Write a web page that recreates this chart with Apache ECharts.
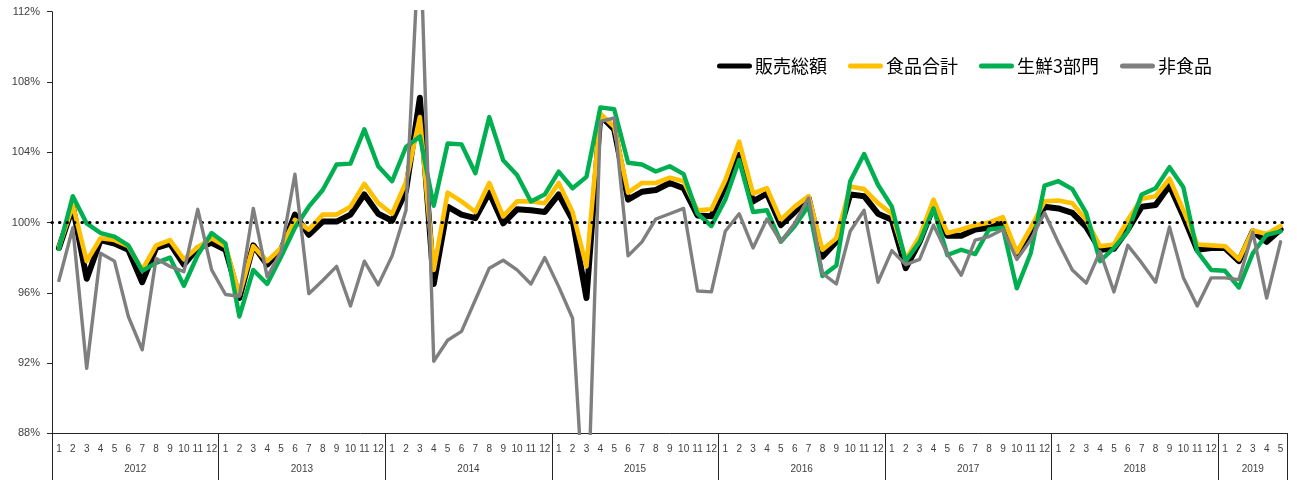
<!DOCTYPE html>
<html>
<head>
<meta charset="utf-8">
<title>販売額 前年同月比</title>
<script src="https://cdn.jsdelivr.net/npm/echarts@6/dist/echarts.min.js"></script>
<style>
  html, body { margin: 0; padding: 0; background: #ffffff; }
  #chart { width: 1297px; height: 480px; }
</style>
</head>
<body>
<div id="chart"></div>
<script>
// Years shown on the lower axis row and how many months each one covers
const years = ['2012', '2013', '2014', '2015', '2016', '2017', '2018', '2019'];
const monthsInYear = [12, 12, 12, 12, 12, 12, 12, 5];

// Year-over-year ratio (%) by month, Jan 2012 – May 2019
const salesTotal = [ // 販売総額
  98.55, 100.9, 96.8, 99.0, 98.8, 98.45, 96.6, 98.55, 98.8, 97.6, 98.55, 98.85,
  98.45, 95.7, 98.7, 97.6, 98.45, 100.45, 99.3, 100.05, 100.05, 100.45, 101.6, 100.5,
  100.1, 101.8, 107.1, 96.5, 100.9, 100.45, 100.25, 101.7, 99.95, 100.75, 100.7, 100.6,
  101.6, 100.15, 95.7, 106.1, 105.3, 101.3, 101.75, 101.85, 102.25, 101.95, 100.4, 100.35,
  102.05, 103.85, 101.2, 101.65, 99.85, 100.6, 101.4, 98.05, 98.9, 101.6, 101.5, 100.5,
  100.15, 97.4, 98.9, 100.9, 99.25, 99.25, 99.6, 99.7, 99.95, 98.15, 99.5, 100.9,
  100.8, 100.55, 99.75, 98.45, 98.5, 99.6, 100.9, 101.0, 102.1, 100.35, 98.45, 98.55,
  98.55, 97.8, 99.5, 98.9, 99.6
];
const foodTotal = [ // 食品合計
  98.6, 101.0, 97.8, 99.1, 99.0, 98.65, 97.3, 98.7, 99.0, 97.9, 98.6, 99.1,
  98.65, 95.9, 98.65, 97.8, 98.55, 100.15, 99.6, 100.45, 100.45, 100.9, 102.2, 101.1,
  100.5, 102.3, 106.0, 97.3, 101.7, 101.2, 100.6, 102.25, 100.35, 101.2, 101.2, 101.1,
  102.25, 100.6, 97.5, 106.2, 105.45, 101.7, 102.25, 102.25, 102.55, 102.35, 100.7, 100.75,
  102.4, 104.6, 101.65, 101.95, 100.15, 100.9, 101.5, 98.45, 99.1, 102.05, 101.9, 101.1,
  100.5, 97.9, 99.2, 101.3, 99.4, 99.6, 99.85, 100.0, 100.3, 98.3, 99.7, 101.2,
  101.25, 101.1, 100.15, 98.65, 98.75, 100.15, 101.35, 101.5, 102.5, 100.7, 98.75, 98.7,
  98.65, 97.9, 99.55, 99.35, 99.8
];
const freshThree = [ // 生鮮3部門
  98.5, 101.5, 99.95, 99.4, 99.2, 98.7, 97.25, 97.7, 98.0, 96.4, 98.15, 99.4,
  98.8, 94.65, 97.3, 96.5, 98.05, 99.7, 100.9, 101.85, 103.3, 103.35, 105.3, 103.2,
  102.35, 104.3, 104.9, 100.95, 104.5, 104.45, 102.8, 106.0, 103.55, 102.7, 101.2, 101.6,
  102.9, 101.95, 102.6, 106.55, 106.45, 103.4, 103.3, 102.9, 103.2, 102.75, 100.5, 99.8,
  101.3, 103.55, 100.6, 100.7, 98.9, 99.8, 100.95, 96.95, 97.55, 102.35, 103.9, 102.15,
  100.9, 97.8, 98.9, 100.8, 98.15, 98.45, 98.2, 99.6, 99.7, 96.25, 98.25, 102.1,
  102.35, 101.9, 100.55, 97.8, 98.55, 99.5, 101.6, 101.95, 103.15, 102.0, 98.35, 97.3,
  97.25, 96.3, 98.25, 99.3, 99.5
];
const nonFood = [ // 非食品
  96.7, 99.7, 91.7, 98.25, 97.8, 94.65, 92.75, 97.95, 97.5, 97.2, 100.75, 97.3,
  95.9, 95.8, 100.8, 96.9, 98.35, 102.75, 95.95, 96.7, 97.5, 95.25, 97.8, 96.45,
  98.1, 100.7, 117.0, 92.1, 93.3, 93.8, 95.6, 97.4, 97.85, 97.3, 96.5, 98.0,
  96.35, 94.55, 81.3, 105.75, 105.95, 98.1, 98.9, 100.2, 100.5, 100.8, 96.1, 96.05,
  99.5, 100.5, 98.55, 100.2, 98.9, 99.95, 101.4, 97.1, 96.5, 99.5, 100.7, 96.6,
  98.4, 97.6, 97.9, 99.85, 98.2, 97.0, 99.0, 99.2, 99.6, 97.9, 99.0, 100.55,
  98.85, 97.3, 96.55, 98.35, 96.05, 98.7, 97.7, 96.6, 99.75, 96.85, 95.25, 96.85,
  96.85, 96.75, 99.45, 95.7, 98.9
];

// Value axis range and tick step (%)
const yMin = 88, yMax = 112, yStep = 4;
const baseLine = 100;

// Month labels and year bookkeeping for the two-row category axis
const monthLabels = [];
const yearStart = {};   // first category index of each year
const yearLabelAt = {}; // category index -> { text, shifted }
let idx = 0;
years.forEach(function (y, k) {
  const n = monthsInYear[k];
  yearStart[idx] = true;
  if (n % 2 === 0) {
    yearLabelAt[idx + n / 2 - 1] = { text: y, shifted: true };
  } else {
    yearLabelAt[idx + (n - 1) / 2] = { text: y, shifted: false };
  }
  for (let m = 1; m <= n; m++) monthLabels.push(String(m));
  idx += n;
});

const axisColor = '#262626';
const labelColor = '#404040';
const latin = "'Liberation Sans', Arial, sans-serif";
const cjk = "'Noto Sans CJK JP', 'Noto Sans', sans-serif";
// Capsule-shaped legend swatch
const capsule = 'path://M2.5,0 L32.5,0 A2.5,2.5 0 0 1 32.5,5 L2.5,5 A2.5,2.5 0 0 1 2.5,0 Z';

function lineSeries(name, data, color, width, z) {
  return {
    name: name,
    type: 'line',
    data: data,
    symbol: 'none',
    clip: true,
    z: z,
    lineStyle: { color: color, width: width, join: 'round', cap: 'round' },
    itemStyle: { color: color },
    emphasis: { disabled: true }
  };
}

const chart = echarts.init(document.getElementById('chart'), null, { renderer: 'canvas' });

const grayLine = lineSeries('非食品', nonFood, '#7f7f7f', 3.4, 5);
grayLine.markLine = {
  silent: true,
  symbol: ['none', 'none'],
  label: { show: false },
  lineStyle: { color: '#000000', width: 3.2, type: [0.4, 7.1], cap: 'round' },
  data: [{ yAxis: baseLine }],
  animation: false
};

chart.setOption({
  animation: false,
  backgroundColor: '#ffffff',
  grid: {
    left: 52, right: 9.5, top: 11.7, bottom: 46.7,
    containLabel: false, outerBoundsMode: 'none'
  },
  legend: {
    left: 717, top: 57,
    icon: capsule,
    itemWidth: 35, itemHeight: 5, itemGap: 21,
    padding: 0,
    textStyle: { fontSize: 18, color: '#000000', fontFamily: cjk, padding: [0, 0, 0, -2] },
    data: ['販売総額', '食品合計', '生鮮3部門', '非食品']
  },
  xAxis: [
    {
      type: 'category',
      data: monthLabels,
      boundaryGap: true,
      position: 'bottom',
      axisLine: { show: true, onZero: false, lineStyle: { color: axisColor, width: 1 } },
      axisTick: {
        show: true,
        interval: function (i) { return !!yearStart[i]; },
        length: 47,
        lineStyle: { color: axisColor, width: 1 }
      },
      axisLabel: {
        interval: 0, fontSize: 10, color: labelColor, margin: 11, fontFamily: latin
      },
      splitLine: { show: false }
    },
    {
      type: 'category',
      data: monthLabels,
      boundaryGap: true,
      position: 'bottom',
      axisLine: { show: false },
      axisTick: { show: false },
      axisLabel: {
        interval: function (i) { return yearLabelAt[i] !== undefined; },
        formatter: function (v, i) {
          const y = yearLabelAt[i];
          if (!y) return '';
          return y.shifted ? '{s|' + y.text + '}' : '{c|' + y.text + '}';
        },
        margin: 31,
        rich: {
          s: { fontSize: 10, color: labelColor, fontFamily: latin, padding: [0, 0, 0, 13.9] },
          c: { fontSize: 10, color: labelColor, fontFamily: latin }
        }
      },
      splitLine: { show: false }
    }
  ],
  yAxis: {
    type: 'value',
    min: yMin, max: yMax, interval: yStep,
    axisLine: { show: true, lineStyle: { color: axisColor, width: 1 } },
    axisTick: { show: true, length: 5, lineStyle: { color: axisColor, width: 1 } },
    axisLabel: {
      formatter: '{value}%', fontSize: 11, color: labelColor, margin: 12, fontFamily: latin
    },
    splitLine: { show: false }
  },
  series: [
    lineSeries('販売総額', salesTotal, '#000000', 6, 2),
    lineSeries('食品合計', foodTotal, '#ffc000', 4.6, 3),
    lineSeries('生鮮3部門', freshThree, '#00b050', 4.4, 4),
    grayLine
  ]
});
</script>
</body>
</html>
